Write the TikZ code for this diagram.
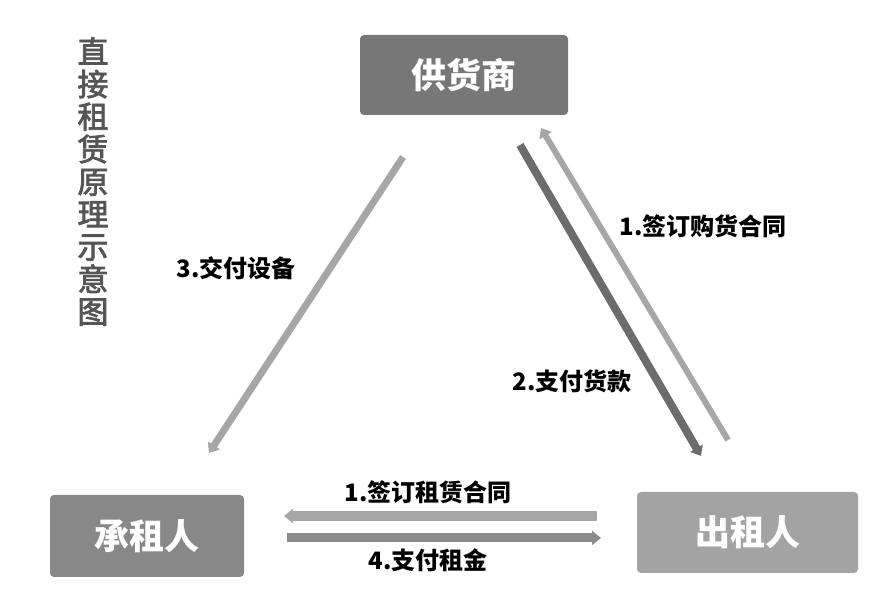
\documentclass[tikz,border=0pt]{standalone}
\usepackage{fontspec}
\newfontfamily\cjk{Noto Sans CJK SC}
\newfontfamily\cjkfb{Noto Sans CJK SC}[FakeBold=2.5]
\usetikzlibrary{arrows.meta}
\definecolor{boxA}{HTML}{777777}
\definecolor{boxB}{HTML}{888888}
\definecolor{boxC}{HTML}{A3A3A3}
\definecolor{arrL}{HTML}{A6A6A6}
\definecolor{arrM}{HTML}{8C8C8C}
\definecolor{arrD}{HTML}{6C6C6C}
\definecolor{titlec}{HTML}{555555}
\tikzset{
  party/.style={draw=none, rounded corners=4pt, text=white, font=\cjk\bfseries\fontsize{35}{35}\selectfont, inner sep=0pt},
  lbl/.style={font=\cjk\bfseries\fontsize{24}{24}\selectfont, text=black, inner sep=0pt},
  flow/.style={-{Triangle[length=9pt,width=14pt]}, line cap=butt}
}
\begin{document}
\begin{tikzpicture}[x=1pt,y=-1pt]
\useasboundingbox[fill=white] (0,0) rectangle (887,601);
% title
\node[text=titlec, font=\cjkfb\fontsize{31}{32.5}\selectfont, align=center, inner sep=0pt, anchor=north] (title) at (93,37)
  {直\\接\\租\\赁\\原\\理\\示\\意\\图};
% parties
\node[party, fill=boxA, minimum width=208pt, minimum height=80pt] (sup) at (464,75) {供货商};
\node[party, fill=boxB, minimum width=194pt, minimum height=82pt] (lessee) at (147,536) {承租人};
\node[party, fill=boxC, minimum width=221pt, minimum height=81pt] (lessor) at (747.5,532.5) {出租人};
% arrow end points
\coordinate (a3s) at (403,157);
\coordinate (a3e) at (209,453);
\coordinate (a2s) at (520,145);
\coordinate (a2e) at (701,456);
\coordinate (a1s) at (728,440);
\coordinate (a1e) at (541,128);
\coordinate (h1s) at (597,516);
\coordinate (h1e) at (284,516);
\coordinate (h2s) at (287,538);
\coordinate (h2e) at (601,538);
% arrows
\draw[flow, draw=arrL, fill=arrL, line width=7pt] (a3s) -- (a3e);
\draw[flow, draw=arrD, line width=8pt] (a2s) -- (a2e);
\draw[flow, draw=arrL, line width=6pt] (a1s) -- (a1e);
\draw[flow, draw=arrL, line width=10pt] (h1s) -- (h1e);
\draw[flow, draw=arrM, line width=9pt] (h2s) -- (h2e);
% labels
\node[lbl] (l3) at (236,268) {3.交付设备};
\node[lbl] (l2) at (572,381) {2.支付货款};
\node[lbl] (l1a) at (703,226) {1.签订购货合同};
\node[lbl] (l1b) at (428,492) {1.签订租赁合同};
\node[lbl] (l4) at (428,560) {4.支付租金};
\end{tikzpicture}
\end{document}
